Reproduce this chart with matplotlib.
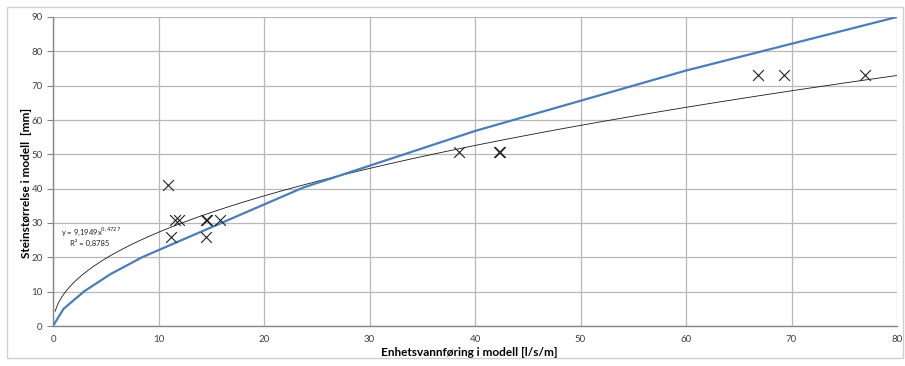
import matplotlib
matplotlib.use("Agg")
import matplotlib.pyplot as plt
import numpy as np
from matplotlib.patches import Rectangle

# Observed data (x markers)
obs_x = [10.9, 11.2, 11.6, 11.9, 14.5, 14.6, 14.5, 15.8, 38.5, 42.3, 42.4, 66.8, 69.3, 77.0]
obs_y = [41.0, 26.0, 31.0, 31.0, 31.0, 31.0, 26.0, 31.0, 50.7, 50.7, 50.7, 73.0, 73.0, 73.0]

# Blue curve vertices
curve_x = [0, 1, 3, 5.5, 8.5, 23.7, 40, 60, 80]
curve_y = [0, 5, 10.2, 15.2, 20.1, 40.3, 56.8, 74.4, 90]

# Power trendline shown on chart
trend_coef = 9.1949
trend_exp = 0.4727
trend_xmin, trend_xmax = 0.2, 80

x_ticks = [0, 10, 20, 30, 40, 50, 60, 70, 80]
y_ticks = [0, 10, 20, 30, 40, 50, 60, 70, 80, 90]

plt.rcParams['font.family'] = ['Lato', 'DejaVu Sans']

W, H = 905, 366
fig = plt.figure(figsize=(W / 100, H / 100), dpi=100)
fig.patches.append(Rectangle((7 / W, 1 - 358 / H), (903 - 7) / W, (358 - 7) / H,
                             transform=fig.transFigure, fill=False,
                             edgecolor='#d0d0d0', linewidth=1.0))

ax = fig.add_axes([53 / W, 1 - 326 / H, (897 - 53) / W, (326 - 17) / H])

tx = np.linspace(trend_xmin, trend_xmax, 400)
ty = trend_coef * tx ** trend_exp
ax.plot(tx, ty, color='#1a1a1a', linewidth=0.6, zorder=3)
ax.plot(curve_x, curve_y, color='#4A7EBB', linewidth=1.6, zorder=4)
ax.scatter(obs_x, obs_y, marker='x', s=60, color='#222222', linewidths=0.8, zorder=5)

ax.set_xlim(0, 80)
ax.set_ylim(0, 90)
ax.set_xticks(x_ticks)
ax.set_yticks(y_ticks)
ax.grid(True, color='#b8b8b8', linewidth=0.9)
ax.set_axisbelow(True)
for s in ['top', 'right']:
    ax.spines[s].set_visible(False)
for s in ['left', 'bottom']:
    ax.spines[s].set_color('#868686')
    ax.spines[s].set_linewidth(1.0)
ax.tick_params(axis='both', labelsize=7, colors='#404040', length=4, width=0.8)
ax.tick_params(axis='x', length=0, pad=6.5)
ax.tick_params(axis='y', color='#868686')

ax.set_xlabel('Enhetsvannføring i modell [l/s/m]', fontsize=8.5, fontweight='bold', va='center')
ax.xaxis.set_label_coords((469 - 53) / 844, -27 / 309)
ax.set_ylabel('Steinstørrelse i modell  [mm]', fontsize=8.5, fontweight='bold', va='center')
ax.yaxis.set_label_coords(-26 / 844, (326 - 183) / 309)

ax.text(0.8, 26.5, 'y = 9,1949x$^{0{,}4727}$', fontsize=5.5, color='#222222', zorder=6)
ax.text(1.6, 23.2, 'R² = 0,8785', fontsize=5.5, color='#222222', zorder=6)

fig.savefig('out.png', dpi=100)
